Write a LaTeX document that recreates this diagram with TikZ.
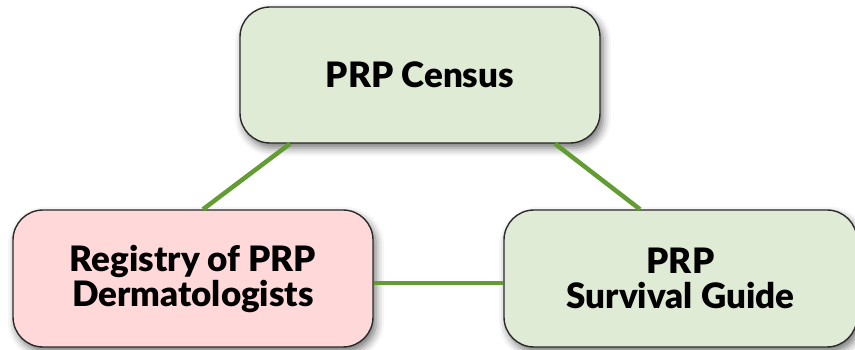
\documentclass[tikz,border=0pt]{standalone}
\usepackage{fontspec}
\setmainfont{Lato}[BoldFont={Lato Black}]
\usetikzlibrary{calc,shadows.blur}
\definecolor{boxgreen}{HTML}{E0EBD5}
\definecolor{boxpink}{HTML}{FFD9D9}
\definecolor{linkgreen}{HTML}{639C32}
\definecolor{boxborder}{HTML}{2A2A2A}
\tikzset{
  boxnode/.style={draw=boxborder, line width=1.4pt, rounded corners=30pt,
    align=center, font=\fontsize{35}{35}\selectfont\bfseries, inner sep=0pt,
    blur shadow={shadow xshift=3pt, shadow yshift=-5pt, shadow blur radius=8pt, shadow opacity=55}},
  link/.style={draw=linkgreen, line width=4.5pt}
}
\begin{document}
\begin{tikzpicture}[x=1pt,y=1pt]
\useasboundingbox (0,0) rectangle (855,-350);
\node[boxnode, fill=boxgreen, minimum width=360pt, minimum height=136pt] (census) at (420,-75) {PRP Census};
\node[boxnode, fill=boxpink, minimum width=360pt, minimum height=137pt] (registry) at (193,-278.5) {Registry of PRP\\Dermatologists};
\node[boxnode, fill=boxgreen, minimum width=353pt, minimum height=137pt] (guide) at (680.5,-278.5) {PRP\\Survival Guide};
\draw[link] ($(census.south)+(-130pt,0)$) -- ($(registry.north)+(10pt,0)$);
\draw[link] ($(census.south)+(135pt,0)$) -- ($(guide.north)+(-40.5pt,0)$);
\draw[link] ($(registry.east)+(0,-4.5pt)$) -- ($(guide.west)+(0,-4.5pt)$);
\end{tikzpicture}
\end{document}
